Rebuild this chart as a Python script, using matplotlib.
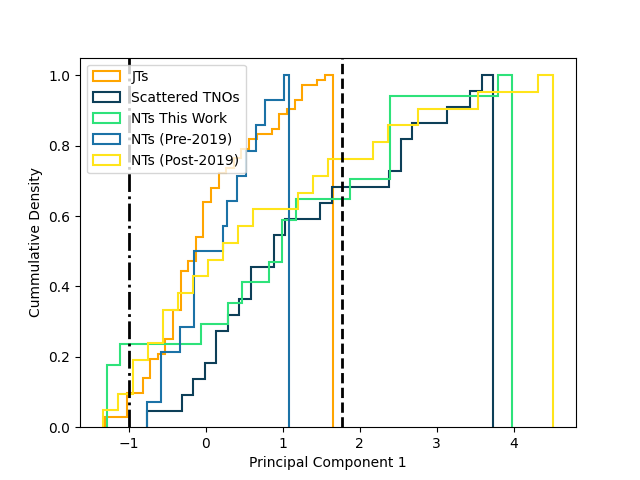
import numpy as np
import matplotlib
matplotlib.use("Agg")
from matplotlib import pyplot as plt

# principal component 1 values (with how many objects sit at each value)
jt_pc1 = [-1.314, -0.969, -0.771, -0.672, -0.574, -0.475, -0.376, -0.278, -0.179, -0.080,
          0.019, 0.117, 0.216, 0.315, 0.414, 0.512, 0.611, 0.710, 0.907, 1.006,
          1.104, 1.203, 1.302, 1.499, 1.647]
jt_n = [2, 5, 3, 4, 1, 3, 6, 8, 2, 5,
        7, 3, 3, 1, 2, 2, 2, 1, 1, 3,
        1, 2, 3, 1, 1]

tno_pc1 = [-0.764, -0.239, -0.089, 0.061, 0.211, 0.361, 0.511, 0.661, 0.961, 1.111,
           1.561, 1.711, 2.461, 2.611, 2.761, 3.211, 3.511, 3.736]
tno_n = [1, 1, 1, 1, 2, 1, 1, 2, 2, 1,
         1, 1, 1, 2, 1, 1, 1, 1]

nt_this_pc1 = [-1.283, -1.020, 0.032, 0.382, 0.558, 0.908, 1.083, 1.259, 1.960, 2.486, 3.977]
nt_this_n = [3, 1, 1, 1, 1, 1, 2, 1, 1, 4, 1]

nt_pre_pc1 = [-0.764, -0.549, -0.303, -0.119, 0.249, 0.310, 0.433, 0.556, 0.679, 0.802, 1.078]
nt_pre_n = [1, 2, 1, 3, 1, 1, 1, 1, 1, 1, 1]

nt_post_pc1 = [-1.340, -1.047, -0.852, -0.656, -0.461, -0.266, -0.071, 0.125, 0.320, 0.515,
               0.711, 1.297, 1.492, 1.687, 2.273, 2.468, 2.859, 3.640, 4.517]
nt_post_n = [1, 1, 2, 1, 2, 1, 1, 1, 1, 1,
             1, 1, 1, 1, 1, 1, 1, 1, 1]

fig, ax = plt.subplots(figsize=(6.4, 4.8), dpi=100)

groups = [
    (jt_pc1, jt_n, '#FFA500', 'JTs'),
    (tno_pc1, tno_n, '#0d3f58', 'Scattered TNOs'),
    (nt_this_pc1, nt_this_n, '#2ee27a', 'NTs This Work'),
    (nt_pre_pc1, nt_pre_n, '#1b72a6', 'NTs (Pre-2019)'),
    (nt_post_pc1, nt_post_n, '#FFE41A', 'NTs (Post-2019)'),
]
for vals, counts, col, lab in groups:
    ax.hist(vals, bins=30, weights=counts, density=True, cumulative=True,
            histtype='step', color=col, linewidth=1.5, label=lab)

ax.axvline(-1, color='black', linestyle='-.', linewidth=2)
ax.axvline(1.77, color='black', linestyle='--', linewidth=2)

ax.set_xlabel('Principal Component 1')
ax.set_ylabel('Cummulative Density')
ax.legend(loc='upper left')
fig.savefig('out.png')
